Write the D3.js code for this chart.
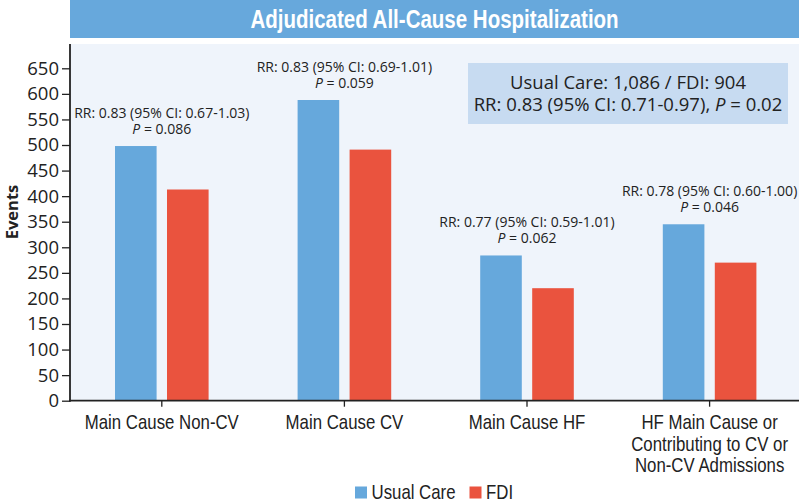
<!DOCTYPE html>
<html><head><meta charset="utf-8">
<script src="https://cdn.jsdelivr.net/npm/d3@7"></script>
<style>body{margin:0;background:#fff} svg{display:block}</style>
</head><body><svg id="c" width="799" height="503"></svg>
<script>
// ---- data ----
const categoryLines = [
  ["Main Cause Non-CV"],
  ["Main Cause CV"],
  ["Main Cause HF"],
  ["HF Main Cause or", "Contributing to CV or", "Non-CV Admissions"]
];
const seriesNames = ["Usual Care", "FDI"];
const usualCare = [498, 588, 284, 345];
const fdi = [413, 491, 220, 270];
const rrLabels = [
  "RR: 0.83 (95% CI: 0.67-1.03)",
  "RR: 0.83 (95% CI: 0.69-1.01)",
  "RR: 0.77 (95% CI: 0.59-1.01)",
  "RR: 0.78 (95% CI: 0.60-1.00)"
];
const pValues = ["0.086", "0.059", "0.062", "0.046"];
const yTicks = [0, 50, 100, 150, 200, 250, 300, 350, 400, 450, 500, 550, 600, 650];
const titleText = "Adjudicated All-Cause Hospitalization";
const yLabel = "Events";
const summaryLine1 = "Usual Care: 1,086 / FDI: 904";
const summaryLine2 = "RR: 0.83 (95% CI: 0.71-0.97), ";
const summaryP = "0.02";

const colors = {"Usual Care": "#66a8dc", "FDI": "#ea533e"};
const narrow = '"Liberation Sans", Arial, sans-serif';
const sans = '"Open Sans", "Noto Sans", sans-serif';
const NARROW_F = 0.82;

// narrow-face emulation: horizontally scaled text placed at (x, y)
function narrowText(parent, x, y, txt, size, opts = {}) {
  return parent.append("text")
    .attr("transform", `translate(${x},${y}) scale(${NARROW_F},1)`)
    .attr("text-anchor", opts.anchor || "middle")
    .attr("font-family", narrow)
    .attr("font-weight", opts.weight || "normal")
    .attr("font-size", size)
    .attr("fill", opts.fill || "#222")
    .text(txt);
}

const svg = d3.select("#c");
const L = 70, R = 799, T = 44, B = 400.7;

// title bar
svg.append("rect").attr("x", L).attr("y", 0).attr("width", R - L).attr("height", 38).attr("fill", "#67a8dc");
narrowText(svg, (L + R) / 2, 27.5, titleText, 25, {weight: "bold", fill: "#fff"});

// plot bg
svg.append("rect").attr("x", L).attr("y", T).attr("width", R - L).attr("height", B - T).attr("fill", "#eff4fb");

const idx = d3.range(categoryLines.length);
const x0 = d3.scaleBand().domain(idx).range([L + 0.5, L + 0.5 + 4 * 182.6]);
const x1 = d3.scaleBand().domain(seriesNames).range([-46.8, 46.8]).paddingInner(0.2);
const y = d3.scaleLinear().domain([0, 650]).range([B, 68.3]);
const cx = i => x0(i) + x0.bandwidth() / 2;

// summary box
svg.append("rect").attr("x", 468).attr("y", 63).attr("width", 320).attr("height", 61).attr("fill", "#c7dbf1");
svg.append("text").attr("x", 628).attr("y", 89).attr("text-anchor", "middle")
  .attr("font-family", sans).attr("font-size", 18.5).attr("fill", "#222").text(summaryLine1);
const s2 = svg.append("text").attr("x", 628).attr("y", 111).attr("text-anchor", "middle")
  .attr("font-family", sans).attr("font-size", 18.5).attr("fill", "#222");
s2.append("tspan").text(summaryLine2);
s2.append("tspan").attr("font-style", "italic").text("P");
s2.append("tspan").text(" = " + summaryP);

// bars
const groups = svg.append("g").selectAll("g").data(idx).join("g")
  .attr("transform", i => `translate(${cx(i)},0)`);
groups.selectAll("rect").data(i => [
  {s: "Usual Care", v: usualCare[i]}, {s: "FDI", v: fdi[i]}
]).join("rect")
  .attr("x", d => x1(d.s)).attr("width", x1.bandwidth())
  .attr("y", d => y(d.v)).attr("height", d => y(0) - y(d.v))
  .attr("fill", d => colors[d.s]);

// annotations
idx.forEach(i => {
  const top = y(Math.max(usualCare[i], fdi[i]));
  svg.append("text").attr("x", cx(i)).attr("y", top - 28.5).attr("text-anchor", "middle")
    .attr("font-family", sans).attr("font-size", 14).attr("fill", "#222").text(rrLabels[i]);
  const t = svg.append("text").attr("x", cx(i)).attr("y", top - 12).attr("text-anchor", "middle")
    .attr("font-family", sans).attr("font-size", 14).attr("fill", "#222");
  t.append("tspan").attr("font-style", "italic").text("P");
  t.append("tspan").text(" = " + pValues[i]);
});

// y axis
const ya = svg.append("g").attr("transform", `translate(${L},0)`)
  .call(d3.axisLeft(y).tickValues(yTicks).tickSize(8).tickPadding(3));
ya.select(".domain").remove();
ya.selectAll("line").attr("stroke", "#222").attr("stroke-width", 1.3);
ya.selectAll("text").attr("font-family", sans).attr("font-size", 18.5).attr("fill", "#222");
svg.append("line").attr("x1", L).attr("x2", L).attr("y1", T).attr("y2", B + 1)
  .attr("stroke", "#222").attr("stroke-width", 1.8);

// x axis
const xa = svg.append("g").attr("transform", `translate(0,${B})`)
  .call(d3.axisBottom(x0).tickSize(6).tickFormat(""));
xa.select(".domain").remove();
xa.selectAll("line").attr("stroke", "#222").attr("stroke-width", 1.3);
svg.append("line").attr("x1", L - 1).attr("x2", R).attr("y1", B).attr("y2", B)
  .attr("stroke", "#222").attr("stroke-width", 1.8);
idx.forEach(i => {
  categoryLines[i].forEach((ln, k) => {
    narrowText(svg, cx(i), 429 + k * 21.5, ln, 20.5);
  });
});

// y label
svg.append("text").attr("transform", "translate(18,212) rotate(-90)").attr("text-anchor", "middle")
  .attr("font-family", sans).attr("font-weight", "bold").attr("font-size", 16.5).attr("fill", "#222").text(yLabel);

// legend
const lx = [355, 469.5];
seriesNames.forEach((s, k) => {
  svg.append("rect").attr("x", lx[k]).attr("y", 486.5).attr("width", 12).attr("height", 12).attr("fill", colors[s]);
  narrowText(svg, lx[k] + 16.5, 498.5, s, 20.5, {anchor: "start"});
});
</script></body></html>
